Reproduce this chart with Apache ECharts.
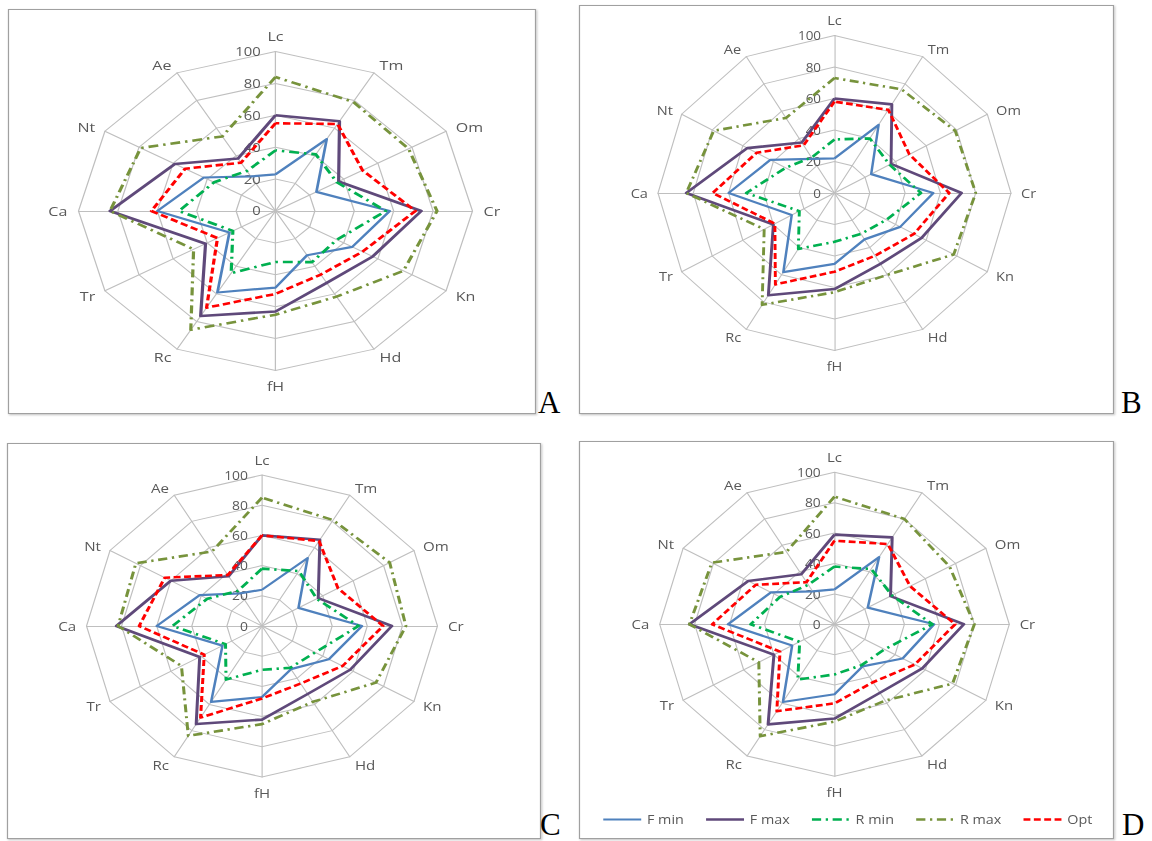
<!DOCTYPE html>
<html>
<head>
<meta charset="utf-8">
<title>Radar profiles A–D</title>
<script src="https://cdn.jsdelivr.net/npm/echarts@6/dist/echarts.min.js"></script>
<style>
  html, body { margin: 0; padding: 0; background: #fff; }
  #page { position: relative; width: 1152px; height: 841px; overflow: hidden; }
  .layer { position: absolute; }
</style>
</head>
<body>
<div id="page">
  <div id="bg" class="layer" style="left:0;top:0;width:1152px;height:841px;"></div>
</div>
<script>
// Axis (indicator) names, listed clockwise from the top
const axisNames = ['Lc', 'Tm', 'Om', 'Cr', 'Kn', 'Hd', 'fH', 'Rc', 'Tr', 'Ca', 'Nt', 'Ae'];
const seriesNames = ['F min', 'F max', 'R min', 'R max', 'Opt'];
const ringTicks = [0, 20, 40, 60, 80, 100];

// Panel A
const aFmin = [23, 52, 24, 58, 45, 32, 48, 59, 27, 60, 42, 25];
const aFmax = [60, 65, 37, 74, 57, 52, 63, 76, 41, 84, 59, 38];
const aRmin = [38, 41, 36, 56, 36, 37, 32, 45, 25, 49, 36, 29];
const aRmax = [84, 79, 78, 82, 75, 62, 65, 86, 48, 84, 79, 54];
const aOpt  = [55, 63, 51, 71, 51, 46, 52, 70, 34, 63, 53, 35];

// Panel B
const bFmin = [22, 50, 24, 56, 43, 34, 45, 58, 28, 60, 42, 25];
const bFmax = [60, 65, 37, 72, 57, 52, 61, 75, 40, 84, 57, 37];
const bRmin = [34, 40, 36, 49, 34, 30, 31, 41, 23, 50, 32, 26];
const bRmax = [73, 76, 79, 80, 78, 60, 63, 82, 46, 84, 79, 55];
const bOpt  = [58, 61, 49, 65, 52, 46, 50, 67, 39, 69, 51, 35];

// Panel C
const cFmin = [24, 52, 24, 57, 44, 33, 47, 58, 26, 60, 41, 25];
const cFmax = [60, 66, 37, 74, 58, 52, 62, 75, 41, 83, 60, 38];
const cRmin = [38, 42, 36, 55, 35, 32, 29, 41, 24, 51, 36, 27];
const cRmax = [85, 81, 84, 82, 75, 58, 65, 84, 53, 82, 83, 57];
const cOpt  = [60, 65, 50, 69, 53, 44, 48, 70, 38, 70, 64, 39];

// Panel D
const dFmin = [23, 51, 22, 57, 45, 32, 46, 59, 28, 61, 42, 25];
const dFmax = [59, 66, 37, 74, 58, 52, 62, 76, 40, 83, 57, 38];
const dRmin = [38, 42, 38, 56, 33, 31, 33, 42, 23, 48, 36, 30];
const dRmax = [84, 80, 76, 80, 78, 58, 64, 85, 50, 83, 81, 55];
const dOpt  = [55, 61, 50, 69, 53, 44, 52, 66, 36, 70, 52, 32];

// Line styles for the five series
const styles = [
  { color: '#4F81BD', width: 2.2, type: 'solid' },
  { color: '#5F497A', width: 2.6, type: 'solid' },
  { color: '#00B050', width: 2.6, type: [8, 4, 2, 4] },
  { color: '#77933C', width: 2.6, type: [8, 4, 2, 4] },
  { color: '#FF0000', width: 2.6, type: [6, 3] }
];

// Panel frames and radar geometry (page pixels); the radar is drawn as a circle
// and stretched horizontally to the ellipse rx × ry.
const panels = [
  { letter: 'A', box: [8, 9, 527, 404],   center: [275.5, 211],   rx: 197,   ry: 159.5, letterPos: [538, 413], data: [aFmin, aFmax, aRmin, aRmax, aOpt], legend: false },
  { letter: 'B', box: [579, 5, 534, 408], center: [834.5, 193],   rx: 176.5, ry: 157.5, letterPos: [1121, 413], data: [bFmin, bFmax, bRmin, bRmax, bOpt], legend: false },
  { letter: 'C', box: [7, 443, 533, 395], center: [262, 626],     rx: 175.5, ry: 151,   letterPos: [540, 835], data: [cFmin, cFmax, cRmin, cRmax, cOpt], legend: false },
  { letter: 'D', box: [579, 441, 534, 397], center: [834.5, 624.3], rx: 174.8, ry: 152, letterPos: [1122, 835], data: [dFmin, dFmax, dRmin, dRmax, dOpt], legend: true }
];

const textColor = '#595959';
const gridColor = '#BFBFBF';
const uiFont = '"Open Sans", "Liberation Sans", sans-serif';

// ECharts lays indicators out counter-clockwise; reverse them to run clockwise.
const order = axisNames.map((_, i) => (i === 0 ? 0 : axisNames.length - i));
const clockwise = arr => order.map(k => arr[k]);

// Background: panel frames and panel letters
const bg = echarts.init(document.getElementById('bg'), null, { renderer: 'svg' });
bg.setOption({
  animation: false,
  graphic: [].concat(
    panels.map(p => ({
      type: 'rect',
      shape: { x: p.box[0] + 0.5, y: p.box[1] + 0.5, width: p.box[2], height: p.box[3] },
      style: { fill: '#fff', stroke: '#A0A0A0', lineWidth: 1.2,
               shadowBlur: 2, shadowOffsetX: 1, shadowOffsetY: 1, shadowColor: 'rgba(0,0,0,0.25)' }
    })),
    panels.map(p => ({
      type: 'text',
      x: p.letterPos[0], y: p.letterPos[1] - 11,
      style: { text: p.letter, fontSize: 31, lineHeight: 22,
               fontFamily: '"Liberation Serif", "DejaVu Serif", serif',
               fill: '#000', align: 'left', verticalAlign: 'middle' }
    }))
  )
});

const page = document.getElementById('page');
panels.forEach(p => {
  const sx = p.rx / p.ry;
  const el = document.createElement('div');
  el.className = 'layer';
  el.style.left = p.box[0] + 'px';
  el.style.top = p.box[1] + 'px';
  el.style.width = (p.box[2] / sx) + 'px';
  el.style.height = p.box[3] + 'px';
  el.style.transformOrigin = '0 0';
  el.style.transform = 'scaleX(' + sx + ')';
  page.appendChild(el);

  const chart = echarts.init(el, null, { renderer: 'svg' });

  const indicator = order.map((k, i) => ({
    name: axisNames[k],
    min: ringTicks[0],
    max: ringTicks[ringTicks.length - 1],
    axisLabel: { show: i === 0 }
  }));

  const radarSeries = seriesNames.map((name, s) => ({
    type: 'radar',
    name: name,
    symbol: 'none',
    silent: true,
    z: 2 + s,
    lineStyle: { color: styles[s].color, width: styles[s].width, type: styles[s].type },
    itemStyle: { color: styles[s].color },
    emphasis: { disabled: true },
    data: [{ name: name, value: clockwise(p.data[s]) }]
  }));

  const option = {
    animation: false,
    radar: {
      center: [(p.center[0] - p.box[0]) / sx, p.center[1] - p.box[1]],
      radius: p.ry,
      startAngle: 90,
      splitNumber: ringTicks.length - 1,
      shape: 'polygon',
      nameGap: 9,
      indicator: indicator,
      axisName: { color: textColor, fontSize: 13, fontFamily: uiFont },
      axisLine: { lineStyle: { color: gridColor, width: 1 } },
      axisTick: { show: false },
      splitLine: { lineStyle: { color: gridColor, width: 1 } },
      splitArea: { show: false },
      axisLabel: { show: false, color: textColor, fontSize: 12, fontFamily: uiFont, margin: 12 }
    },
    series: radarSeries
  };

  if (p.legend) {
    // Line series without points give the legend line-shaped keys with each dash pattern.
    option.grid = { show: false, left: 0, top: 0, width: 1, height: 1 };
    option.xAxis = { type: 'category', show: false, data: [] };
    option.yAxis = { type: 'value', show: false };
    option.series = seriesNames.map((name, s) => ({
      type: 'line',
      name: name,
      symbol: 'none',
      silent: true,
      lineStyle: { color: styles[s].color, width: styles[s].width, type: styles[s].type },
      itemStyle: { color: styles[s].color },
      data: []
    })).concat(radarSeries);
    option.legend = {
      data: seriesNames,
      left: 15,
      top: 367,
      itemWidth: 33,
      itemHeight: 12,
      itemGap: 18,
      selectedMode: false,
      itemStyle: { opacity: 0 },
      lineStyle: { width: 'inherit' },
      textStyle: { color: textColor, fontSize: 12.5, fontFamily: uiFont }
    };
  }

  chart.setOption(option);
});
</script>
</body>
</html>
